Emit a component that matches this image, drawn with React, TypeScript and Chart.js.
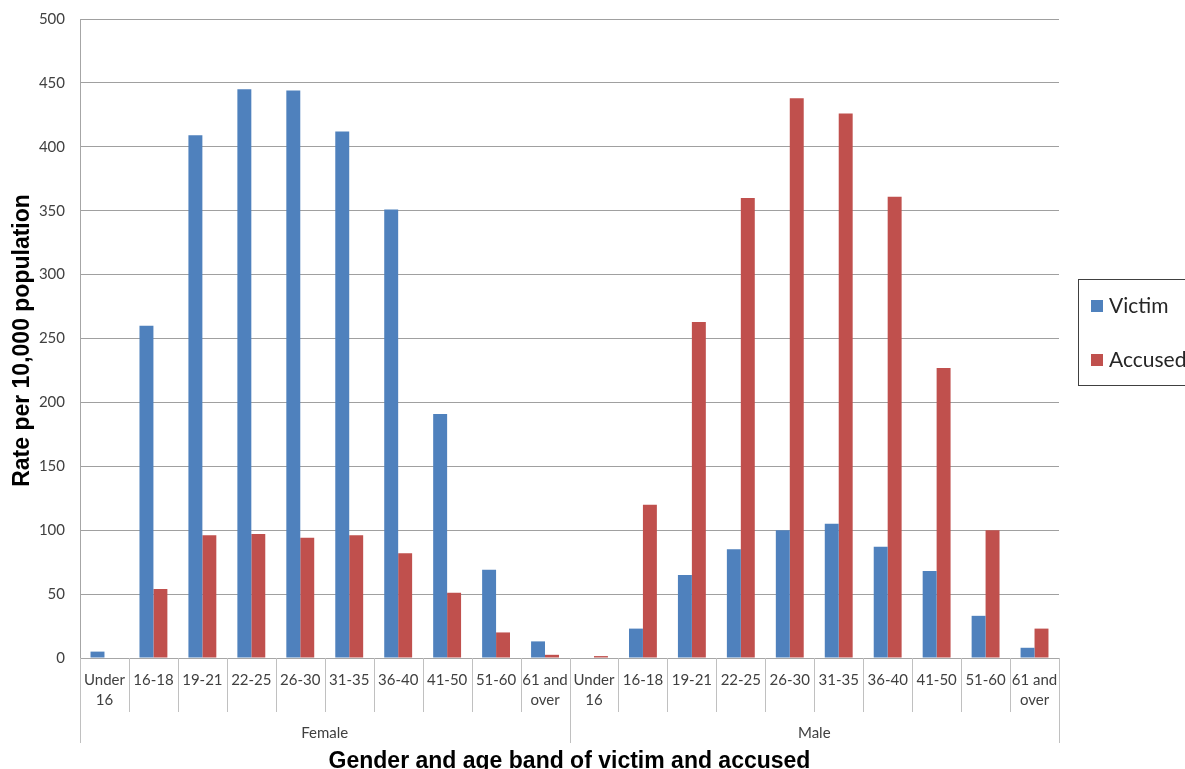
import React, { useEffect, useRef } from "react";
import { Chart, registerables } from "chart.js";

Chart.register(...registerables);

const ageBands: (string | string[])[] = [
  ["Under", "16"], "16-18", "19-21", "22-25", "26-30", "31-35", "36-40", "41-50", "51-60", ["61 and", "over"],
];
const groups = ["Female", "Male"];
const categories = [...ageBands, ...ageBands];

const femaleVictim = [5, 260, 409, 445, 444, 412, 351, 191, 69, 13];
const femaleAccused = [0, 54, 96, 97, 94, 96, 82, 51, 20, 2.5];
const maleVictim = [0, 23, 65, 85, 100, 105, 87, 68, 33, 8];
const maleAccused = [1.5, 120, 263, 360, 438, 426, 361, 227, 100, 23];

const victimValues = [...femaleVictim, ...maleVictim];
const accusedValues = [...femaleAccused, ...maleAccused];

const seriesNames = ["Victim", "Accused"];
const seriesColors = ["#4F81BD", "#C0504D"];

const yTitle = "Rate per 10,000 population";
const xTitle = "Gender and age band of victim and accused";

const TICK_FONT = "Lato, 'Noto Sans', sans-serif";
const TITLE_FONT = "'Liberation Sans', Arial, sans-serif";

const decorPlugin = {
  id: "decor",
  afterDraw(chart: any) {
    const ctx = chart.ctx as CanvasRenderingContext2D;
    const xs = chart.scales.x;
    const area = chart.chartArea;
    const n = categories.length;
    const w = (area.right - area.left) / n;
    ctx.save();
    // category separators
    ctx.strokeStyle = "#c0c0c0";
    ctx.lineWidth = 1;
    for (let i = 0; i <= n; i++) {
      const x = i < n ? xs.getPixelForValue(i) - w / 2 : xs.getPixelForValue(n - 1) + w / 2;
      const xr = Math.round(x) + 0.5;
      const isGroup = i % ageBands.length === 0;
      ctx.beginPath();
      ctx.moveTo(xr, area.bottom);
      ctx.lineTo(xr, area.bottom + (isGroup ? 85 : 54));
      ctx.stroke();
    }
    // group labels
    ctx.fillStyle = "#404040";
    ctx.font = `15px ${TICK_FONT}`;
    ctx.textAlign = "center";
    ctx.textBaseline = "middle";
    groups.forEach((g, gi) => {
      const a = xs.getPixelForValue(gi * ageBands.length);
      const b = xs.getPixelForValue(gi * ageBands.length + ageBands.length - 1);
      ctx.fillText(g, (a + b) / 2, area.bottom + 75);
    });
    // axis titles
    ctx.fillStyle = "#000000";
    ctx.font = `bold 23px ${TITLE_FONT}`;
    ctx.textBaseline = "alphabetic";
    ctx.fillText(xTitle, (area.left + area.right) / 2, 768);
    ctx.save();
    ctx.translate(29, (area.top + area.bottom) / 2 + 2);
    ctx.rotate(-Math.PI / 2);
    ctx.fillText(yTitle, 0, 0);
    ctx.restore();
    // legend
    ctx.strokeStyle = "#404040";
    ctx.lineWidth = 1;
    ctx.strokeRect(1078.5, 279.5, 130, 106);
    ctx.font = `21px ${TICK_FONT}`;
    ctx.textAlign = "left";
    ctx.textBaseline = "middle";
    const ys = [306, 360];
    seriesNames.forEach((s, i) => {
      ctx.fillStyle = seriesColors[i];
      ctx.fillRect(1091, ys[i] - 6, 12, 12);
      ctx.fillStyle = "#262626";
      ctx.fillText(s, 1109, ys[i]);
    });
    ctx.restore();
  },
};

export default function App() {
  const ref = useRef<HTMLCanvasElement>(null);
  useEffect(() => {
    if (!ref.current) return;
    const chart = new Chart(ref.current, {
      type: "bar",
      data: {
        labels: categories,
        datasets: [
          { label: seriesNames[0], data: victimValues, backgroundColor: seriesColors[0] },
          { label: seriesNames[1], data: accusedValues, backgroundColor: seriesColors[1] },
        ],
      },
      options: {
        responsive: false,
        animation: false,
        devicePixelRatio: 1,
        layout: { padding: { top: 19, right: 126, left: 0, bottom: 0 } },
        datasets: { bar: { categoryPercentage: 0.57, barPercentage: 1.0 } },
        plugins: { legend: { display: false }, tooltip: { enabled: false } },
        scales: {
          x: {
            grid: { display: false, drawTicks: false },
            border: { color: "#a6a6a6" },
            ticks: {
              autoSkip: false,
              maxRotation: 0,
              minRotation: 0,
              padding: 12,
              color: "#404040",
              font: { family: TICK_FONT, size: 15, lineHeight: 1.333 },
            },
            afterFit: (s: any) => {
              s.height = 111;
            },
          },
          y: {
            min: 0,
            max: 500,
            ticks: {
              stepSize: 50,
              padding: 15,
              color: "#404040",
              font: { family: TICK_FONT, size: 15, lineHeight: 0.2 },
            },
            grid: { color: "#a0a0a0", drawTicks: false },
            border: { color: "#a6a6a6" },
            afterFit: (s: any) => {
              s.width = 80;
            },
          },
        },
      },
      plugins: [decorPlugin],
    });
    return () => chart.destroy();
  }, []);
  return (
    <div style={{ position: "fixed", left: 0, top: 0, width: 1185, height: 769, background: "#fff" }}>
      <canvas ref={ref} width={1185} height={769} style={{ width: 1185, height: 769, display: "block" }} />
    </div>
  );
}
